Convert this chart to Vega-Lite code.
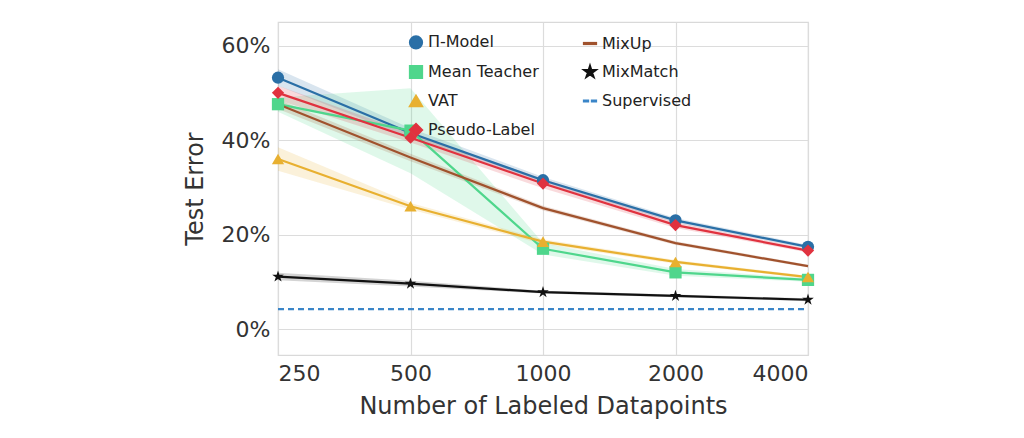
{
  "$schema": "https://vega.github.io/schema/vega-lite/v6.json",
  "width": 530,
  "height": 333,
  "autosize": "none",
  "padding": {"left": 278, "top": 22, "right": 216, "bottom": 83},
  "background": "white",
  "config": {
    "font": "DejaVu Sans",
    "view": {"stroke": "#d9d9d9", "strokeWidth": 1.2},
    "axis": {"gridColor": "#dcdcdc", "gridWidth": 1.2, "domain": false, "ticks": false, "labelFontSize": 22, "titleFontSize": 24, "labelColor": "#333", "titleColor": "#333", "titleFontWeight": "normal", "labelPadding": 8}
  },
  "data": {
    "values": [
      {"series": "Π-Model", "n": 250, "err": 53.2, "lo": 51.5, "hi": 55},
      {"series": "Π-Model", "n": 500, "err": 41.5, "lo": 40.5, "hi": 42.5},
      {"series": "Π-Model", "n": 1000, "err": 31.5, "lo": 30.8, "hi": 32.2},
      {"series": "Π-Model", "n": 2000, "err": 23, "lo": 22.5, "hi": 23.5},
      {"series": "Π-Model", "n": 4000, "err": 17.4, "lo": 17, "hi": 17.8},
      {"series": "Mean Teacher", "n": 250, "err": 47.6, "lo": 46, "hi": 49},
      {"series": "Mean Teacher", "n": 500, "err": 42, "lo": 33, "hi": 51},
      {"series": "Mean Teacher", "n": 1000, "err": 17, "lo": 15.8, "hi": 18.2},
      {"series": "Mean Teacher", "n": 2000, "err": 12, "lo": 11.3, "hi": 12.7},
      {"series": "Mean Teacher", "n": 4000, "err": 10.4, "lo": 10, "hi": 10.8},
      {"series": "VAT", "n": 250, "err": 36, "lo": 33.5, "hi": 38.5},
      {"series": "VAT", "n": 500, "err": 26, "lo": 25.3, "hi": 26.7},
      {"series": "VAT", "n": 1000, "err": 18.5, "lo": 18, "hi": 19},
      {"series": "VAT", "n": 2000, "err": 14.2, "lo": 13.8, "hi": 14.6},
      {"series": "VAT", "n": 4000, "err": 11, "lo": 10.7, "hi": 11.3},
      {"series": "Pseudo-Label", "n": 250, "err": 50, "lo": 48.5, "hi": 51.5},
      {"series": "Pseudo-Label", "n": 500, "err": 40.5, "lo": 39.5, "hi": 41.5},
      {"series": "Pseudo-Label", "n": 1000, "err": 30.8, "lo": 29.8, "hi": 31.8},
      {"series": "Pseudo-Label", "n": 2000, "err": 22, "lo": 21.4, "hi": 22.6},
      {"series": "Pseudo-Label", "n": 4000, "err": 16.6, "lo": 16.2, "hi": 17},
      {"series": "MixUp", "n": 250, "err": 47.6, "lo": 46.6, "hi": 48.6},
      {"series": "MixUp", "n": 500, "err": 36.3, "lo": 35.5, "hi": 37.1},
      {"series": "MixUp", "n": 1000, "err": 25.6, "lo": 25.1, "hi": 26.1},
      {"series": "MixUp", "n": 2000, "err": 18.2, "lo": 17.8, "hi": 18.6},
      {"series": "MixUp", "n": 4000, "err": 13.3, "lo": 13, "hi": 13.6},
      {"series": "MixMatch", "n": 250, "err": 11.1, "lo": 10.3, "hi": 11.9},
      {"series": "MixMatch", "n": 500, "err": 9.6, "lo": 9, "hi": 10.2},
      {"series": "MixMatch", "n": 1000, "err": 7.8, "lo": 7.5, "hi": 8.1},
      {"series": "MixMatch", "n": 2000, "err": 7, "lo": 6.7, "hi": 7.3},
      {"series": "MixMatch", "n": 4000, "err": 6.2, "lo": 5.9, "hi": 6.5},
      {"series": "Supervised", "n": 250, "err": 4.2},
      {"series": "Supervised", "n": 4000, "err": 4.2}
    ]
  },
  "encoding": {
    "x": {
      "field": "n", "type": "quantitative",
      "scale": {"type": "log", "base": 2, "domain": [250, 4000], "nice": false},
      "axis": {"values": [250, 500, 1000, 2000, 4000], "format": "d", "titlePadding": 10},
      "title": "Number of Labeled Datapoints"
    },
    "y": {
      "field": "err", "type": "quantitative",
      "scale": {"domain": [-5.5, 65], "nice": false, "zero": false},
      "axis": {"values": [0, 20, 40, 60], "labelExpr": "datum.value + '%'", "titlePadding": 14},
      "title": "Test Error"
    },
    "color": {
      "field": "series", "type": "nominal",
      "scale": {
        "domain": ["Π-Model", "Mean Teacher", "VAT", "Pseudo-Label", "MixUp", "MixMatch", "Supervised"],
        "range": ["#2a6fa6", "#4fd68c", "#e8b030", "#e0323f", "#a0522d", "#111111", "#3a85c8"]
      },
      "legend": {
        "orient": "none", "legendX": 130, "legendY": 12, "columns": 2, "direction": "vertical", "title": null,
        "labelFontSize": 16, "labelColor": "#222", "symbolSize": 150, "rowPadding": 8, "columnPadding": 40,
        "symbolStrokeWidth": 2, "symbolOpacity": 1, "symbolFillColor": "#2a6fa6"
      }
    }
  },
  "layer": [
    {
      "transform": [{"filter": "datum.series != 'Supervised'"}],
      "mark": {"type": "area", "opacity": 0.18},
      "encoding": {"y": {"field": "lo", "type": "quantitative"}, "y2": {"field": "hi"}}
    },
    {
      "transform": [{"filter": "datum.series != 'Supervised'"}],
      "mark": {"type": "line", "strokeWidth": 2.2},
      "encoding": {}
    },
    {
      "transform": [{"filter": "datum.series == 'Supervised'"}],
      "mark": {"type": "line", "strokeWidth": 2.2, "strokeDash": [6, 4]},
      "encoding": {}
    },
    {
      "transform": [{"filter": "datum.series != 'Supervised' && datum.series != 'MixUp'"}],
      "mark": {"type": "point", "filled": true, "opacity": 1},
      "encoding": {
        "shape": {
          "field": "series", "type": "nominal",
          "scale": {
            "domain": ["Π-Model", "Mean Teacher", "VAT", "Pseudo-Label", "MixUp", "MixMatch", "Supervised"],
            "range": ["circle", "square", "triangle-up", "diamond", "M-1,-0.1L1,-0.1L1,0.1L-1,0.1Z", "M0,-1L0.22,-0.31L0.95,-0.31L0.36,0.12L0.59,0.81L0,0.38L-0.59,0.81L-0.36,0.12L-0.95,-0.31L-0.22,-0.31Z", "M-1,-0.1L-0.3,-0.1L-0.3,0.1L-1,0.1ZM0.3,-0.1L1,-0.1L1,0.1L0.3,0.1Z"]
          },
          "legend": null
        },
        "size": {"value": 150}
      }
    }
  ]
}
